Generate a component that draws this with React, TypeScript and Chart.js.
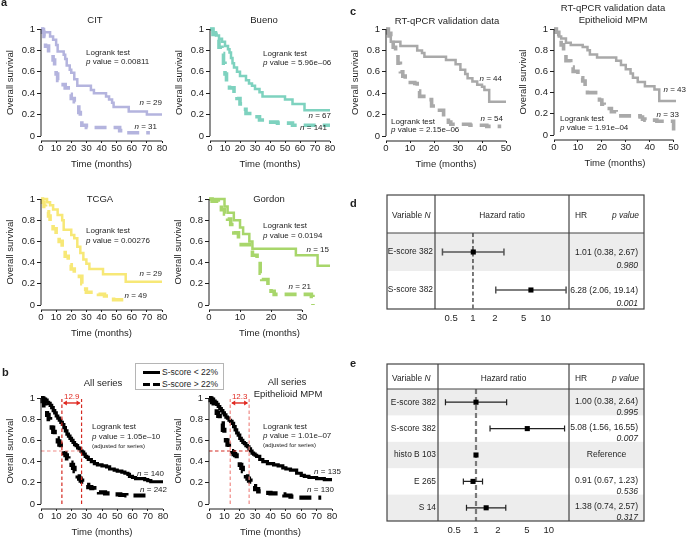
import React, { useEffect, useRef } from 'react';
import { Chart, registerables } from 'chart.js';

Chart.register(...registerables);

const FONT = '"Liberation Sans", Arial, Helvetica, sans-serif';
const INK = '#1e1e1e';

// ---------------- Kaplan-Meier data (time in months, survival) ----------------
const kmTicks80 = [0, 10, 20, 30, 40, 50, 60, 70, 80];
const kmTicks30 = [0, 10, 20, 30];
const kmTicks50 = [0, 10, 20, 30, 40, 50];
const survTicks = [0, 0.2, 0.4, 0.6, 0.8, 1];

// CIT
const citLowT = [0, 2, 6, 8, 10, 11, 15, 16, 17, 19, 20, 22, 24, 33, 35, 43, 45, 47, 48, 58, 70, 80];
const citLowS = [1, 0.97, 0.93, 0.9, 0.85, 0.79, 0.76, 0.72, 0.66, 0.62, 0.59, 0.53, 0.47, 0.43, 0.4, 0.37, 0.34, 0.31, 0.27, 0.23, 0.2, 0.2];
const citHighT = [0, 1, 2, 3, 5, 8, 9, 10, 11, 12, 16, 18, 20, 22, 23, 25, 26, 27, 30, 50, 52, 55, 72];
const citHighS = [1, 0.97, 0.93, 0.84, 0.77, 0.71, 0.65, 0.58, 0.52, 0.48, 0.45, 0.39, 0.35, 0.32, 0.29, 0.22, 0.16, 0.1, 0.08, 0.08, 0.05, 0.03, 0.03];
const citN = [29, 31];
const citP = '0.00811';

// Bueno
const buenoLowT = [0, 2, 4, 6, 8, 10, 12, 13, 14, 15, 16, 18, 20, 24, 26, 28, 30, 33, 35, 50, 55, 63, 80];
const buenoLowS = [1, 0.97, 0.94, 0.91, 0.88, 0.84, 0.81, 0.78, 0.73, 0.68, 0.64, 0.6, 0.56, 0.52, 0.49, 0.47, 0.44, 0.41, 0.37, 0.34, 0.3, 0.24, 0.24];
const buenoHighT = [0, 2, 4, 6, 8, 9, 10, 11, 13, 16, 18, 20, 22, 24, 28, 33, 37, 45, 55, 80];
const buenoHighS = [1, 0.95, 0.9, 0.83, 0.77, 0.68, 0.58, 0.5, 0.45, 0.4, 0.35, 0.3, 0.25, 0.21, 0.18, 0.15, 0.13, 0.12, 0.1, 0.1];
const buenoN = [67, 141];
const buenoP = '5.96e\u201306';

// TCGA
const tcgaLowT = [0, 4, 6, 8, 11, 14, 15, 20, 22, 24, 26, 28, 30, 32, 41, 56, 80];
const tcgaLowS = [1, 0.97, 0.94, 0.9, 0.85, 0.8, 0.71, 0.66, 0.63, 0.55, 0.49, 0.43, 0.39, 0.34, 0.29, 0.22, 0.22];
const tcgaHighT = [0, 1, 2, 3, 5, 6, 8, 10, 12, 14, 16, 18, 20, 22, 24, 27, 28, 30, 38, 42, 48, 56];
const tcgaHighS = [1, 0.97, 0.93, 0.88, 0.84, 0.79, 0.72, 0.66, 0.6, 0.53, 0.46, 0.38, 0.34, 0.3, 0.27, 0.2, 0.15, 0.12, 0.1, 0.085, 0.05, 0.05];
const tcgaN = [29, 49];
const tcgaP = '0.00276';

// Gordon
const gordonLowT = [0, 5, 6, 8, 10, 11, 13, 14, 28, 35, 39];
const gordonLowS = [1, 0.93, 0.87, 0.8, 0.73, 0.67, 0.6, 0.53, 0.47, 0.37, 0.37];
const gordonHighT = [0, 1, 3, 4, 5, 6, 7, 8, 9.5, 14, 15.5, 16.5, 17, 19, 20, 21, 33, 33.5];
const gordonHighS = [1, 0.98, 0.95, 0.9, 0.86, 0.81, 0.76, 0.68, 0.57, 0.47, 0.42, 0.3, 0.24, 0.16, 0.13, 0.1, 0.08, 0];
const gordonN = [15, 21];
const gordonP = '0.0194';

// All series
const allLowT = [0, 2, 3, 4, 5, 6, 7, 8, 9, 10, 11, 12, 13, 14, 15, 16, 17, 18, 19, 20, 21, 22, 23, 24, 25, 26, 27, 28, 29, 30, 31, 33, 35, 37, 40, 43, 45, 48, 50, 53, 55, 57, 58, 60, 62, 65, 68, 70, 72, 80];
const allLowS = [1, 0.99, 0.98, 0.96, 0.95, 0.93, 0.91, 0.88, 0.86, 0.83, 0.81, 0.79, 0.77, 0.75, 0.72, 0.69, 0.66, 0.64, 0.62, 0.6, 0.58, 0.56, 0.55, 0.53, 0.52, 0.5, 0.49, 0.47, 0.45, 0.44, 0.42, 0.4, 0.38, 0.37, 0.36, 0.35, 0.33, 0.32, 0.31, 0.3, 0.29, 0.28, 0.26, 0.25, 0.24, 0.24, 0.23, 0.22, 0.21, 0.21];
const allHighT = [0, 1, 2, 3, 4, 5, 6, 7, 8, 9, 10, 11, 12, 13, 14, 15, 16, 17, 18, 19, 20, 21, 22, 23, 24, 25, 26, 27, 28, 29, 31, 33, 35, 38, 42, 48, 52, 56, 73];
const allHighS = [1, 0.97, 0.93, 0.88, 0.84, 0.8, 0.76, 0.72, 0.68, 0.65, 0.62, 0.59, 0.56, 0.53, 0.5, 0.48, 0.46, 0.43, 0.41, 0.39, 0.37, 0.34, 0.31, 0.28, 0.26, 0.24, 0.22, 0.21, 0.2, 0.18, 0.16, 0.15, 0.12, 0.11, 0.1, 0.09, 0.085, 0.08, 0.08];
const allN = [140, 242];
const allP = '1.05e\u201310';
const allMedian = [13.7, 26.6];
const allMedianLabel = '12.9';

// All series, epithelioid
const epiLowT = [0, 2, 3, 4, 5, 6, 7, 8, 9, 10, 11, 12, 13, 14, 15, 16, 17, 18, 19, 20, 21, 22, 23, 24, 25, 26, 27, 28, 29, 30, 31, 33, 35, 38, 42, 45, 48, 50, 53, 55, 57, 60, 62, 65, 70, 75, 80];
const epiLowS = [1, 0.99, 0.97, 0.96, 0.94, 0.92, 0.9, 0.88, 0.86, 0.84, 0.82, 0.81, 0.79, 0.78, 0.76, 0.73, 0.7, 0.67, 0.65, 0.62, 0.6, 0.58, 0.57, 0.55, 0.54, 0.52, 0.5, 0.48, 0.47, 0.46, 0.45, 0.42, 0.4, 0.38, 0.37, 0.36, 0.34, 0.33, 0.32, 0.32, 0.29, 0.27, 0.26, 0.25, 0.24, 0.23, 0.23];
const epiHighT = [0, 1, 2, 3, 4, 5, 6, 7, 8, 9, 10, 11, 12, 13, 14, 15, 16, 17, 18, 19, 20, 21, 22, 23, 24, 25, 26, 27, 28, 29, 30, 32, 35, 40, 45, 49, 53, 57, 73];
const epiHighS = [1, 0.98, 0.96, 0.93, 0.9, 0.86, 0.83, 0.79, 0.76, 0.7, 0.65, 0.6, 0.56, 0.53, 0.5, 0.49, 0.47, 0.46, 0.43, 0.4, 0.37, 0.34, 0.31, 0.28, 0.26, 0.24, 0.22, 0.21, 0.2, 0.17, 0.14, 0.12, 0.105, 0.1, 0.09, 0.08, 0.07, 0.06, 0.06];
const epiN = [135, 130];
const epiP = '1.01e\u201307';
const epiMedian = [13.8, 26.1];
const epiMedianLabel = '12.3';

// RT-qPCR validation
const rtLowT = [0, 0.5, 1, 2, 6, 13, 15, 16, 25, 29, 31, 33, 34, 36, 38, 40, 41, 43, 50];
const rtLowS = [1, 0.96, 0.93, 0.88, 0.84, 0.8, 0.775, 0.74, 0.71, 0.67, 0.62, 0.58, 0.54, 0.51, 0.48, 0.46, 0.43, 0.32, 0.32];
const rtHighT = [0, 1, 2, 3, 4, 5, 6, 7, 8, 12, 13, 14, 17, 19, 21, 24, 25, 26, 27, 35, 42, 48];
const rtHighS = [1, 0.96, 0.9, 0.83, 0.77, 0.68, 0.6, 0.56, 0.5, 0.49, 0.42, 0.37, 0.34, 0.28, 0.24, 0.2, 0.17, 0.13, 0.11, 0.1, 0.09, 0.09];
const rtN = [44, 54];
const rtP = '2.15e\u201306';

// RT-qPCR validation, epithelioid
const rtEpiLowT = [0, 1, 2, 3, 5, 7, 12, 14, 15, 18, 26, 28, 30, 32, 33, 35, 38, 42, 44, 51];
const rtEpiLowS = [1, 0.97, 0.93, 0.91, 0.87, 0.85, 0.83, 0.8, 0.76, 0.73, 0.7, 0.66, 0.62, 0.58, 0.54, 0.5, 0.46, 0.43, 0.32, 0.32];
const rtEpiHighT = [0, 1, 2, 3, 4, 5, 7, 8, 10, 12, 13, 14, 19, 20, 21, 22, 24, 26, 27, 36, 37, 38, 43, 50, 50.3];
const rtEpiHighS = [1, 0.97, 0.92, 0.85, 0.79, 0.7, 0.64, 0.6, 0.54, 0.51, 0.45, 0.4, 0.33, 0.29, 0.27, 0.25, 0.22, 0.2, 0.18, 0.17, 0.15, 0.14, 0.13, 0.04, 0];
const rtEpiN = [43, 33];
const rtEpiP = '1.91e\u201304';

// ---------------- Forest plot data ----------------
const hrTicks = [0.5, 1, 2, 5, 10];
const dVars = ['E-score 382', 'S-score 382'];
const dHR = [1.01, 6.28];
const dLo = [0.38, 2.06];
const dHi = [2.67, 19.14];
const dP = ['0.980', '0.001'];

const eVars = ['E-score 382', 'S-score 382', 'histo B 103', 'E 265', 'S 14'];
const eHR = [1.0, 5.08, 1, 0.91, 1.38];
const eLo: (number | null)[] = [0.38, 1.56, null, 0.67, 0.74];
const eHi: (number | null)[] = [2.64, 16.55, null, 1.23, 2.57];
const eP: (string | null)[] = ['0.995', '0.007', null, '0.536', '0.317'];

// ---------------- helpers ----------------
type Seg = { t: string; i?: boolean };
type Note = { segs: Seg[]; x: number; y: number; align?: 'left' | 'right' | 'center'; size?: number; color?: string };

const plain = (t: string): Seg[] => [{ t }];
const nLab = (n: number): Seg[] => [{ t: 'n', i: true }, { t: ' = ' + n }];
const pLab = (p: string): Seg[] => [{ t: 'p', i: true }, { t: ' value = ' + p }];

function drawSegs(ctx: CanvasRenderingContext2D, segs: Seg[], x: number, y: number, align: string, size: number, color: string) {
  ctx.save();
  ctx.textBaseline = 'middle';
  ctx.textAlign = 'left';
  ctx.fillStyle = color;
  const fonts = segs.map((s) => `${s.i ? 'italic ' : ''}${size}px ${FONT}`);
  const ws = segs.map((s, k) => {
    ctx.font = fonts[k];
    return ctx.measureText(s.t).width;
  });
  const tot = ws.reduce((a, b) => a + b, 0);
  let cx = align === 'left' ? x : align === 'right' ? x - tot : x - tot / 2;
  segs.forEach((s, k) => {
    ctx.font = fonts[k];
    ctx.fillText(s.t, cx, y);
    cx += ws[k];
  });
  ctx.restore();
}

type Curve = { t: number[]; s: number[]; dashed?: boolean };
type Median = { lo: number; hi: number; label: string; vColor: string; hColor: string };

interface KMProps {
  L: number; R: number; T: number; Y0: number;
  xMax: number; xTicks: number[];
  color: string; curves: Curve[]; notes: Note[];
  solidW: number; dashW: number; dash: number[];
  median?: Median;
}

const YW = 42, XH = 36, PT = 34, PR = 14;

function KM(p: KMProps) {
  const ref = useRef<HTMLCanvasElement>(null);
  const B = p.Y0 + 5;
  const cl = p.L - YW, ct = p.T - PT;
  const cw = YW + (p.R - p.L) + PR, ch = PT + (B - p.T) + XH;
  useEffect(() => {
    const canvas = ref.current!;
    const yMin = -(B - p.Y0) / (p.Y0 - p.T);
    const deco = {
      id: 'kmDeco',
      afterDatasetsDraw(chart: any) {
        const m = p.median;
        if (!m) return;
        const ctx: CanvasRenderingContext2D = chart.ctx;
        const xs = chart.scales.x, ys = chart.scales.y;
        const xlo = xs.getPixelForValue(m.lo), xhi = xs.getPixelForValue(m.hi);
        const y0 = ys.getPixelForValue(0), yh = ys.getPixelForValue(0.5);
        const yt = ys.getPixelForValue(0.99), ya = ys.getPixelForValue(0.953);
        ctx.save();
        ctx.lineWidth = 1.2;
        ctx.setLineDash([3.5, 2.5]);
        ctx.strokeStyle = m.hColor;
        ctx.beginPath();
        ctx.moveTo(xs.getPixelForValue(0), yh);
        ctx.lineTo(xhi, yh);
        ctx.stroke();
        ctx.strokeStyle = m.vColor;
        ctx.beginPath();
        ctx.moveTo(xlo, y0); ctx.lineTo(xlo, yt);
        ctx.moveTo(xhi, y0); ctx.lineTo(xhi, yt);
        ctx.stroke();
        ctx.setLineDash([]);
        ctx.strokeStyle = '#e02a22';
        ctx.fillStyle = '#e02a22';
        ctx.lineWidth = 1.4;
        ctx.beginPath();
        ctx.moveTo(xlo + 2, ya); ctx.lineTo(xhi - 2, ya);
        ctx.stroke();
        ctx.beginPath();
        ctx.moveTo(xlo + 1, ya); ctx.lineTo(xlo + 5, ya - 2.5); ctx.lineTo(xlo + 5, ya + 2.5); ctx.closePath();
        ctx.moveTo(xhi - 1, ya); ctx.lineTo(xhi - 5, ya - 2.5); ctx.lineTo(xhi - 5, ya + 2.5); ctx.closePath();
        ctx.fill();
        drawSegs(ctx, plain(m.label), (xlo + xhi) / 2, ys.getPixelForValue(1.015), 'center', 8, '#e02a22');
        ctx.restore();
      },
      afterDraw(chart: any) {
        const ctx: CanvasRenderingContext2D = chart.ctx;
        const xs = chart.scales.x, ys = chart.scales.y, a = chart.chartArea;
        ctx.save();
        ctx.strokeStyle = INK;
        ctx.lineWidth = 1;
        ctx.beginPath();
        ctx.moveTo(a.left, ys.getPixelForValue(0));
        ctx.lineTo(a.left, ys.getPixelForValue(1));
        ctx.moveTo(xs.getPixelForValue(p.xTicks[0]), a.bottom);
        ctx.lineTo(xs.getPixelForValue(p.xTicks[p.xTicks.length - 1]), a.bottom);
        ctx.stroke();
        ctx.restore();
        ctx.save();
        ctx.translate(p.L - 31 - cl, (p.T + p.Y0) / 2 - ct);
        ctx.rotate(-Math.PI / 2);
        drawSegs(ctx, plain('Overall survival'), 0, 0, 'center', 9.5, INK);
        ctx.restore();
        drawSegs(ctx, plain('Time (months)'), (p.L + p.R) / 2 - cl, B + 23.5 - ct, 'center', 9.5, INK);
        p.notes.forEach((n) => drawSegs(ctx, n.segs, n.x - cl, n.y - ct, n.align || 'left', n.size || 8, n.color || INK));
      },
    };
    const chart = new Chart(canvas, {
      type: 'line',
      data: {
        datasets: p.curves.map((c) => ({
          data: c.t.map((t, i) => ({ x: t, y: c.s[i] })),
          stepped: true,
          borderColor: p.color,
          borderWidth: c.dashed ? p.dashW : p.solidW,
          borderDash: c.dashed ? p.dash : [],
          borderCapStyle: 'butt',
          borderJoinStyle: 'miter',
          pointRadius: 0,
          fill: false,
          clip: false,
        })) as any,
      },
      options: {
        animation: false,
        responsive: false,
        maintainAspectRatio: false,
        events: [],
        layout: { padding: { top: PT, right: PR, left: 0, bottom: 0 } },
        plugins: { legend: { display: false }, tooltip: { enabled: false } },
        scales: {
          x: {
            type: 'linear',
            min: 0,
            max: p.xMax,
            afterFit: (s: any) => { s.height = XH; },
            afterBuildTicks: (s: any) => { s.ticks = p.xTicks.map((v) => ({ value: v })); },
            grid: { display: true, drawOnChartArea: false, drawTicks: true, tickLength: 2, color: INK, lineWidth: 1 },
            border: { display: false },
            ticks: { font: { family: FONT, size: 9.5 }, color: INK, padding: 0, maxRotation: 0, autoSkip: false, callback: (v: any) => String(v) },
          },
          y: {
            type: 'linear',
            min: yMin,
            max: 1,
            afterFit: (s: any) => { s.width = YW; },
            afterBuildTicks: (s: any) => { s.ticks = survTicks.map((v) => ({ value: v })); },
            grid: { display: true, drawOnChartArea: false, drawTicks: true, tickLength: 4, color: INK, lineWidth: 1 },
            border: { display: false },
            ticks: { font: { family: FONT, size: 9.5 }, color: INK, padding: 2, autoSkip: false, callback: (v: any) => String(Math.round(Number(v) * 10) / 10) },
          },
        },
      } as any,
      plugins: [deco],
    });
    return () => chart.destroy();
  }, []);
  return <canvas ref={ref} width={cw} height={ch} style={{ position: 'absolute', left: cl, top: ct, width: cw, height: ch }} />;
}

interface ForestProps {
  tableL: number; tableR: number; tableTop: number; headBot: number; bottom: number;
  chartL: number; chartR: number;
  vars: string[]; hr: number[]; lo: (number | null)[]; hi: (number | null)[]; pv: (string | null)[];
  xMin: number; xMax: number;
  hrDy: number; pDy: number;
  refColor: string; refWidth: number; refDash: number[];
  barColor: string; barWidth: number; capH: number;
}

function Forest(p: ForestProps) {
  const ref = useRef<HTMLCanvasElement>(null);
  const cl = p.tableL - 4, ct = p.tableTop - 4, cr = p.tableR + 4, cb = p.bottom + 18;
  const cw = cr - cl, ch = cb - ct;
  useEffect(() => {
    const canvas = ref.current!;
    const n = p.vars.length;
    const X = (px: number) => px - cl;
    const Y = (py: number) => py - ct;
    const fmt = (v: number) => v.toFixed(2);
    const deco = {
      id: 'forestDeco',
      beforeDatasetsDraw(chart: any) {
        const ctx: CanvasRenderingContext2D = chart.ctx;
        const xs = chart.scales.x, ys = chart.scales.y;
        ctx.save();
        p.vars.forEach((_, i) => {
          if (i % 2 === 0) {
            const y1 = ys.getPixelForValue(i - 0.5), y2 = ys.getPixelForValue(i + 0.5);
            ctx.fillStyle = '#ededed';
            ctx.fillRect(X(p.tableL), Math.min(y1, y2), p.tableR - p.tableL, Math.abs(y2 - y1));
          }
        });
        const x1 = xs.getPixelForValue(1);
        ctx.strokeStyle = p.refColor;
        ctx.lineWidth = p.refWidth;
        ctx.setLineDash(p.refDash);
        ctx.beginPath();
        ctx.moveTo(x1, Y(p.headBot));
        ctx.lineTo(x1, Y(p.bottom));
        ctx.stroke();
        ctx.setLineDash([]);
        ctx.strokeStyle = p.barColor;
        ctx.lineWidth = p.barWidth;
        p.vars.forEach((_, i) => {
          const lo = p.lo[i], hi = p.hi[i];
          if (lo == null || hi == null) return;
          const y = ys.getPixelForValue(i);
          const a = xs.getPixelForValue(lo), b = xs.getPixelForValue(hi);
          ctx.beginPath();
          ctx.moveTo(a, y); ctx.lineTo(b, y);
          ctx.moveTo(a, y - p.capH / 2); ctx.lineTo(a, y + p.capH / 2);
          ctx.moveTo(b, y - p.capH / 2); ctx.lineTo(b, y + p.capH / 2);
          ctx.stroke();
        });
        ctx.restore();
      },
      afterDraw(chart: any) {
        const ctx: CanvasRenderingContext2D = chart.ctx;
        const ys = chart.scales.y;
        const a = chart.chartArea;
        ctx.save();
        ctx.strokeStyle = '#444';
        ctx.lineWidth = 1.2;
        ctx.strokeRect(X(p.tableL), Y(p.tableTop), p.tableR - p.tableL, p.bottom - p.tableTop);
        ctx.beginPath();
        ctx.moveTo(X(p.tableL), Y(p.headBot)); ctx.lineTo(X(p.tableR), Y(p.headBot));
        ctx.moveTo(X(p.chartL), Y(p.tableTop)); ctx.lineTo(X(p.chartL), Y(p.bottom));
        ctx.moveTo(X(p.chartR), Y(p.tableTop)); ctx.lineTo(X(p.chartR), Y(p.bottom));
        ctx.stroke();
        ctx.restore();
        const hy = Y((p.tableTop + p.headBot) / 2 + 2);
        const fs = 8.4;
        drawSegs(ctx, [{ t: 'Variable ' }, { t: 'N', i: true }], X(p.tableL + 5), hy, 'left', fs, INK);
        drawSegs(ctx, plain('Hazard ratio'), (a.left + a.right) / 2, hy, 'center', fs, INK);
        drawSegs(ctx, plain('HR'), X(p.chartR + 6), hy, 'left', fs, INK);
        drawSegs(ctx, [{ t: 'p value', i: true }], X(p.tableR - 5), hy, 'right', fs, INK);
        p.vars.forEach((v, i) => {
          const y = ys.getPixelForValue(i);
          drawSegs(ctx, plain(v), a.left - 2, y, 'right', fs, INK);
          const lo = p.lo[i], hi = p.hi[i];
          if (lo == null || hi == null) {
            drawSegs(ctx, plain('Reference'), X((p.chartR + p.tableR) / 2), y, 'center', 8.6, INK);
          } else {
            drawSegs(ctx, plain(`${fmt(p.hr[i])} (${fmt(lo)}, ${fmt(hi)})`), X(p.tableR - 6), y + p.hrDy, 'right', 8.6, INK);
            const pv = p.pv[i];
            if (pv) drawSegs(ctx, [{ t: pv, i: true }], X(p.tableR - 6), y + p.pDy, 'right', 8.6, INK);
          }
        });
      },
    };
    const chart = new Chart(canvas, {
      type: 'scatter',
      data: {
        datasets: [
          {
            data: p.hr.map((h, i) => ({ x: h, y: i })),
            pointStyle: 'rect',
            pointRadius: 3.6,
            backgroundColor: '#000',
            borderColor: '#000',
            borderWidth: 0,
          },
        ],
      } as any,
      options: {
        animation: false,
        responsive: false,
        maintainAspectRatio: false,
        events: [],
        layout: { padding: { top: p.headBot - ct, right: cr - p.chartR, left: p.chartL - cl, bottom: 0 } },
        plugins: { legend: { display: false }, tooltip: { enabled: false } },
        scales: {
          x: {
            type: 'logarithmic',
            min: p.xMin,
            max: p.xMax,
            afterFit: (s: any) => { s.height = cb - p.bottom; },
            afterBuildTicks: (s: any) => { s.ticks = hrTicks.map((v) => ({ value: v })); },
            grid: { display: false, drawTicks: false },
            border: { display: false },
            ticks: { font: { family: FONT, size: 9.5 }, color: INK, padding: 4, maxRotation: 0, autoSkip: false, callback: (v: any) => String(v) },
          },
          y: { display: false, min: -0.5, max: n - 0.5, reverse: true },
        },
      } as any,
      plugins: [deco],
    });
    return () => chart.destroy();
  }, []);
  return <canvas ref={ref} width={cw} height={ch} style={{ position: 'absolute', left: cl, top: ct, width: cw, height: ch }} />;
}

function Letter({ ch, x, baseline }: { ch: string; x: number; baseline: number }) {
  return (
    <div style={{ position: 'absolute', left: x, top: baseline - 9.5, font: `bold 11px ${FONT}`, lineHeight: '11px', color: INK }}>{ch}</div>
  );
}

function Legend() {
  const txt: React.CSSProperties = { position: 'absolute', left: 26, font: `8.5px ${FONT}`, lineHeight: '10px', color: INK, whiteSpace: 'nowrap' };
  return (
    <div style={{ position: 'absolute', left: 135, top: 363, width: 89, height: 27, border: '1px solid #b5b5b5', background: '#fff', boxSizing: 'border-box' }}>
      <div style={{ position: 'absolute', left: 7, top: 6.5, width: 17, height: 3, background: '#000' }} />
      <div style={{ ...txt, top: 3 }}>S-score &lt; 22%</div>
      <div style={{ position: 'absolute', left: 7, top: 18.5, width: 7, height: 3.5, background: '#000' }} />
      <div style={{ position: 'absolute', left: 17, top: 18.5, width: 7, height: 3.5, background: '#000' }} />
      <div style={{ ...txt, top: 15 }}>S-score &gt; 22%</div>
    </div>
  );
}

const COL_CIT = '#b4b4de';
const COL_BUENO = '#7ed2bf';
const COL_TCGA = '#f7e877';
const COL_GORDON = '#a8d66b';
const COL_RT = '#a9a9a9';

const colW = { solidW: 2.5, dashW: 3.6, dash: [12, 7] };
const blkW = { solidW: 3.2, dashW: 4.2, dash: [12, 7] };

export default function App() {
  return (
    <div style={{ position: 'absolute', left: 0, top: 0, width: 687, height: 540, background: '#fff', overflow: 'hidden' }}>
      <KM
        L={41} R={162} T={29} Y0={136} xMax={80} xTicks={kmTicks80} color={COL_CIT} {...colW}
        curves={[{ t: citLowT, s: citLowS }, { t: citHighT, s: citHighS, dashed: true }]}
        notes={[
          { segs: plain('CIT'), x: 95, y: 20, align: 'center', size: 9.5 },
          { segs: plain('Logrank test'), x: 86, y: 53 },
          { segs: pLab(citP), x: 86, y: 62 },
          { segs: nLab(citN[0]), x: 162, y: 103, align: 'right' },
          { segs: nLab(citN[1]), x: 157, y: 127, align: 'right' },
        ]}
      />
      <KM
        L={210} R={330} T={29} Y0={136} xMax={80} xTicks={kmTicks80} color={COL_BUENO} {...colW}
        curves={[{ t: buenoLowT, s: buenoLowS }, { t: buenoHighT, s: buenoHighS, dashed: true }]}
        notes={[
          { segs: plain('Bueno'), x: 264, y: 20, align: 'center', size: 9.5 },
          { segs: plain('Logrank test'), x: 263, y: 54 },
          { segs: pLab(buenoP), x: 263, y: 63 },
          { segs: nLab(buenoN[0]), x: 331, y: 116, align: 'right' },
          { segs: nLab(buenoN[1]), x: 327, y: 128, align: 'right' },
        ]}
      />
      <KM
        L={41} R={162} T={199} Y0={305} xMax={80} xTicks={kmTicks80} color={COL_TCGA} {...colW}
        curves={[{ t: tcgaLowT, s: tcgaLowS }, { t: tcgaHighT, s: tcgaHighS, dashed: true }]}
        notes={[
          { segs: plain('TCGA'), x: 100, y: 199, align: 'center', size: 9.5 },
          { segs: plain('Logrank test'), x: 86, y: 231 },
          { segs: pLab(tcgaP), x: 86, y: 241 },
          { segs: nLab(tcgaN[0]), x: 162, y: 274, align: 'right' },
          { segs: nLab(tcgaN[1]), x: 147, y: 296, align: 'right' },
        ]}
      />
      <KM
        L={209} R={330} T={199} Y0={305} xMax={39} xTicks={kmTicks30} color={COL_GORDON} {...colW}
        curves={[{ t: gordonLowT, s: gordonLowS }, { t: gordonHighT, s: gordonHighS, dashed: true }]}
        notes={[
          { segs: plain('Gordon'), x: 269, y: 199, align: 'center', size: 9.5 },
          { segs: plain('Logrank test'), x: 263, y: 226 },
          { segs: pLab(gordonP), x: 263, y: 236 },
          { segs: nLab(gordonN[0]), x: 329, y: 250, align: 'right' },
          { segs: nLab(gordonN[1]), x: 311, y: 287, align: 'right' },
        ]}
      />
      <KM
        L={41} R={163} T={398} Y0={504} xMax={80} xTicks={kmTicks80} color="#000" {...blkW}
        curves={[{ t: allLowT, s: allLowS }, { t: allHighT, s: allHighS, dashed: true }]}
        median={{ lo: allMedian[0], hi: allMedian[1], label: allMedianLabel, vColor: '#d42a22', hColor: '#ef8a86' }}
        notes={[
          { segs: plain('All series'), x: 103, y: 383, align: 'center', size: 9.5 },
          { segs: plain('Logrank test'), x: 92, y: 427 },
          { segs: pLab(allP), x: 92, y: 437 },
          { segs: plain('(adjusted for series)'), x: 92, y: 446, size: 6 },
          { segs: nLab(allN[0]), x: 164, y: 474, align: 'right' },
          { segs: nLab(allN[1]), x: 167, y: 490, align: 'right' },
        ]}
      />
      <KM
        L={209} R={332} T={398} Y0={504} xMax={80} xTicks={kmTicks80} color="#000" {...blkW}
        curves={[{ t: epiLowT, s: epiLowS }, { t: epiHighT, s: epiHighS, dashed: true }]}
        median={{ lo: epiMedian[0], hi: epiMedian[1], label: epiMedianLabel, vColor: '#ef8a86', hColor: '#d42a22' }}
        notes={[
          { segs: plain('All series'), x: 287, y: 382, align: 'center', size: 9.5 },
          { segs: plain('Epithelioid MPM'), x: 288, y: 394, align: 'center', size: 9.5 },
          { segs: plain('Logrank test'), x: 263, y: 427 },
          { segs: pLab(epiP), x: 263, y: 436 },
          { segs: plain('(adjusted for series)'), x: 263, y: 445, size: 6 },
          { segs: nLab(epiN[0]), x: 341, y: 472, align: 'right' },
          { segs: nLab(epiN[1]), x: 334, y: 490, align: 'right' },
        ]}
      />
      <KM
        L={386} R={506} T={29} Y0={136} xMax={50} xTicks={kmTicks50} color={COL_RT} {...colW}
        curves={[{ t: rtLowT, s: rtLowS }, { t: rtHighT, s: rtHighS, dashed: true }]}
        notes={[
          { segs: plain('RT-qPCR validation data'), x: 447, y: 21, align: 'center', size: 9.5 },
          { segs: plain('Logrank test'), x: 391, y: 122 },
          { segs: pLab(rtP), x: 391, y: 130 },
          { segs: nLab(rtN[0]), x: 502, y: 79, align: 'right' },
          { segs: nLab(rtN[1]), x: 503, y: 119, align: 'right' },
        ]}
      />
      <KM
        L={554} R={676} T={29} Y0={135} xMax={51} xTicks={kmTicks50} color={COL_RT} {...colW}
        curves={[{ t: rtEpiLowT, s: rtEpiLowS }, { t: rtEpiHighT, s: rtEpiHighS, dashed: true }]}
        notes={[
          { segs: plain('RT-qPCR validation data'), x: 613, y: 8, align: 'center', size: 9.5 },
          { segs: plain('Epithelioid MPM'), x: 613, y: 20, align: 'center', size: 9.5 },
          { segs: plain('Logrank test'), x: 560, y: 119 },
          { segs: pLab(rtEpiP), x: 560, y: 128 },
          { segs: nLab(rtEpiN[0]), x: 686, y: 90, align: 'right' },
          { segs: nLab(rtEpiN[1]), x: 679, y: 115, align: 'right' },
        ]}
      />
      <Forest
        tableL={387} tableR={644} tableTop={195} headBot={233} bottom={309} chartL={435} chartR={569}
        vars={dVars} hr={dHR} lo={dLo} hi={dHi} pv={dP} xMin={0.34} xMax={21}
        hrDy={1} pDy={14} refColor="#222" refWidth={1.2} refDash={[4, 2.5]}
        barColor="#555" barWidth={1.5} capH={7}
      />
      <Forest
        tableL={387} tableR={644} tableTop={364} headBot={389} bottom={521} chartL={438} chartR={569}
        vars={eVars} hr={eHR} lo={eLo} hi={eHi} pv={eP} xMin={0.341} xMax={19.05}
        hrDy={-1} pDy={10} refColor="#7a7a7a" refWidth={2.2} refDash={[5, 3]}
        barColor="#222" barWidth={1.2} capH={6}
      />
      <Legend />
      <Letter ch="a" x={1} baseline={6} />
      <Letter ch="b" x={2} baseline={376} />
      <Letter ch="c" x={350} baseline={15} />
      <Letter ch="d" x={350} baseline={207} />
      <Letter ch="e" x={350} baseline={367} />
    </div>
  );
}
